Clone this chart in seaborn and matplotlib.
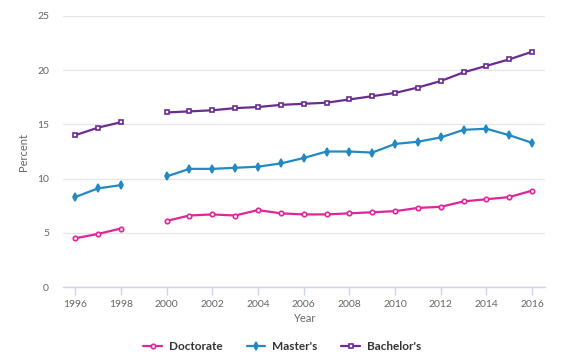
import numpy as np
import pandas as pd
import seaborn as sns
import matplotlib.pyplot as plt
from matplotlib.lines import Line2D

years = [1996, 1997, 1998, 1999, 2000, 2001, 2002, 2003, 2004, 2005, 2006,
         2007, 2008, 2009, 2010, 2011, 2012, 2013, 2014, 2015, 2016]
doctorate = [4.5, 4.9, 5.4, np.nan, 6.1, 6.6, 6.7, 6.6, 7.1, 6.8, 6.7,
             6.7, 6.8, 6.9, 7.0, 7.3, 7.4, 7.9, 8.1, 8.3, 8.9]
masters = [8.3, 9.1, 9.4, np.nan, 10.2, 10.9, 10.9, 11.0, 11.1, 11.4, 11.9,
           12.5, 12.5, 12.4, 13.2, 13.4, 13.8, 14.5, 14.6, 14.0, 13.3]
bachelors = [14.0, 14.7, 15.2, np.nan, 16.1, 16.2, 16.3, 16.5, 16.6, 16.8, 16.9,
             17.0, 17.3, 17.6, 17.9, 18.4, 19.0, 19.8, 20.4, 21.0, 21.7]
series_names = ["Doctorate", "Master's", "Bachelor's"]
colors = ["#e0259b", "#2389c4", "#6b2c91"]
markers = ["o", "d", "s"]
yticks = [0, 5, 10, 15, 20, 25]
xticks = list(range(1996, 2017, 2))

rows = []
for name, vals in zip(series_names, [doctorate, masters, bachelors]):
    for y, v in zip(years, vals):
        if not np.isnan(v):
            rows.append({"Year": y, "Percent": v, "Degree": name,
                         "seg": 0 if y < 1999 else 1})
df = pd.DataFrame(rows)

sns.set_theme(style="white")
plt.rcParams['font.family'] = ['Lato', 'DejaVu Sans']

fig = plt.figure(figsize=(5.65, 3.54), dpi=100)
ax = fig.add_axes([0.1115, 0.189, 0.8535, 0.766])

palette = dict(zip(series_names, colors))
for name, mk in zip(series_names, markers):
    sub = df[df["Degree"] == name]
    sns.lineplot(data=sub, x="Year", y="Percent", units="seg", estimator=None,
                 color=palette[name], marker=mk, markersize=3.2 if mk != "d" else 3.8,
                 markerfacecolor="white" if mk != "d" else palette[name],
                 markeredgecolor=palette[name], markeredgewidth=1.2,
                 linewidth=1.6, ax=ax, legend=False)

ax.set_ylim(0, 25)
ax.set_xlim(1995.47, 2016.57)
ax.set_yticks(yticks)
ax.set_xticks(xticks)
ax.yaxis.grid(True, color="#e6e6e6", linewidth=0.9)
ax.xaxis.grid(False)
for s in ["top", "right", "left"]:
    ax.spines[s].set_visible(False)
ax.spines["bottom"].set_color("#ccd6eb")
ax.spines["bottom"].set_linewidth(1)
ax.tick_params(axis="x", colors="#ccd6eb", length=6, width=1, labelcolor="#666666",
               labelsize=7.5, pad=3, direction="out", bottom=True)
ax.tick_params(axis="y", length=0, labelcolor="#666666", labelsize=7.5, pad=10)
ax.set_xlabel("Year", color="#666666", fontsize=8, labelpad=3)
ax.set_ylabel("Percent", color="#666666", fontsize=8, labelpad=6)

handles = [Line2D([0], [0], color=c, marker=m, markersize=3.2 if m != "d" else 3.8,
                  markerfacecolor="white" if m != "d" else c, markeredgecolor=c,
                  markeredgewidth=1.2, linewidth=1.6)
           for c, m in zip(colors, markers)]
leg = fig.legend(handles, series_names, loc="lower center", ncol=3,
                 bbox_to_anchor=(0.5, -0.025), frameon=False, handlelength=1.6,
                 columnspacing=2.0, handletextpad=0.6,
                 prop={"weight": "bold", "size": 8.5})
for t in leg.get_texts():
    t.set_color("#333333")

fig.savefig("out.png", dpi=100)
